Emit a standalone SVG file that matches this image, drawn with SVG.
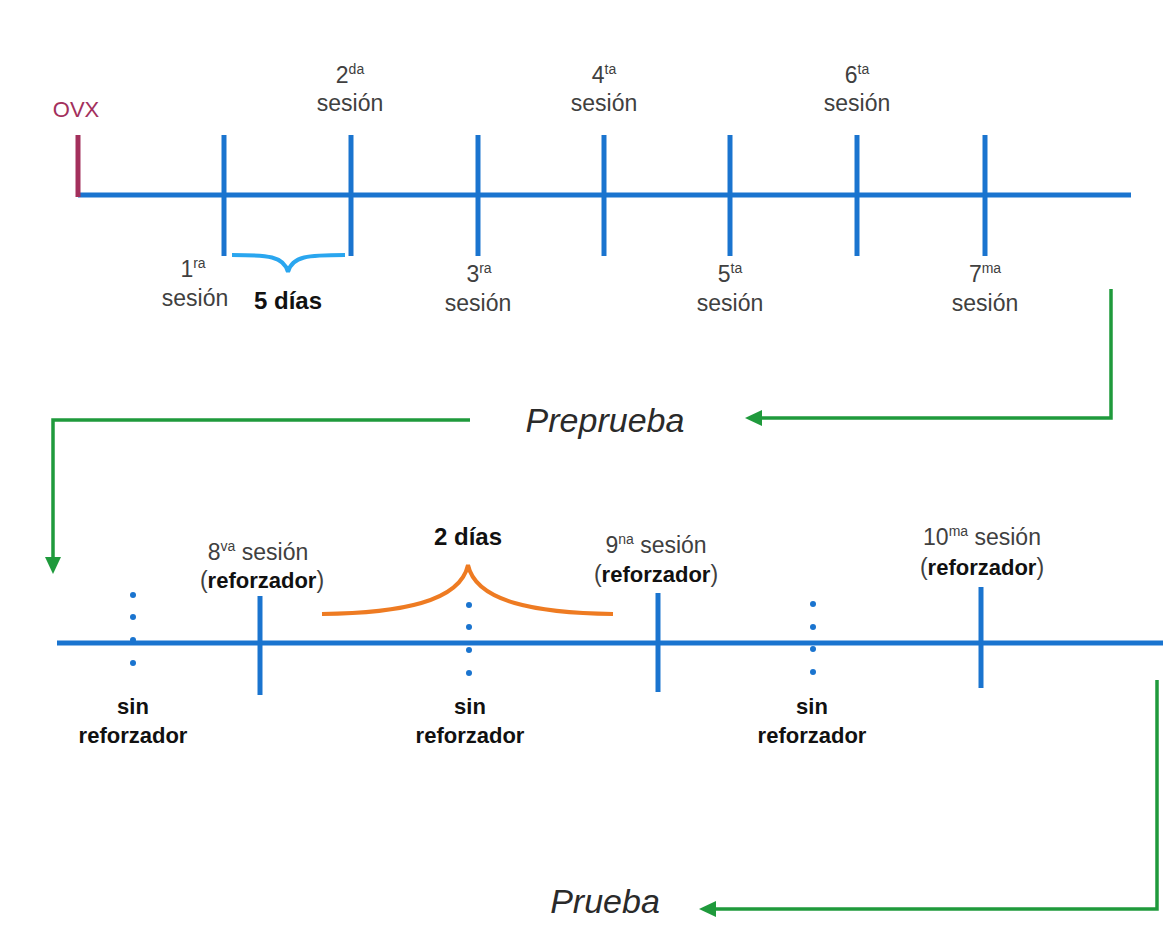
<svg xmlns="http://www.w3.org/2000/svg" width="1163" height="936" viewBox="0 0 1163 936">
<style>
.t{font-family:"Liberation Sans",Arial,sans-serif;font-size:23px;fill:#404040;text-anchor:middle}
.sup{font-size:14px}
.b{font-weight:bold;fill:#111;font-size:22px}
.d{font-size:24px}
.it{font-family:"Liberation Sans",Arial,sans-serif;font-style:italic;font-size:34px;fill:#2a2a2a}
.tl{stroke:#1a74cf;stroke-width:5;fill:none}
.tick{stroke:#1a74cf;stroke-width:5}
.dot{fill:#1a74cf}
.g{stroke:#1f9a3c;stroke-width:3.5;fill:none}
</style>
<defs>
<marker id="arr" markerUnits="userSpaceOnUse" markerWidth="18" markerHeight="16" refX="3" refY="8" orient="auto">
<path d="M0,0 L17,8 L0,16 z" fill="#1f9a3c"/>
</marker>
</defs>
<rect width="1163" height="936" fill="#fff"/>

<g id="timeline1">
<line class="tl" x1="78" y1="195" x2="1131" y2="195"/>
<line x1="78" y1="135" x2="78" y2="197" stroke="#a3305c" stroke-width="5"/>
<line class="tick" x1="224" y1="135" x2="224" y2="256"/>
<line class="tick" x1="351" y1="135" x2="351" y2="256"/>
<line class="tick" x1="478" y1="135" x2="478" y2="256"/>
<line class="tick" x1="604" y1="135" x2="604" y2="256"/>
<line class="tick" x1="730" y1="135" x2="730" y2="256"/>
<line class="tick" x1="857" y1="135" x2="857" y2="256"/>
<line class="tick" x1="985" y1="135" x2="985" y2="256"/>
</g>

<g id="ovx"><text x="76" y="117" class="t" style="fill:#a3305c;font-size:22px">OVX</text></g>
<g id="s1"><text x="193" y="277" class="t">1<tspan class="sup" dy="-9">ra</tspan></text><text x="195" y="306" class="t">sesión</text></g>
<g id="s2"><text x="350" y="83" class="t">2<tspan class="sup" dy="-9">da</tspan></text><text x="350" y="111" class="t">sesión</text></g>
<g id="s3"><text x="479" y="282" class="t">3<tspan class="sup" dy="-9">ra</tspan></text><text x="478" y="311" class="t">sesión</text></g>
<g id="s4"><text x="604" y="83" class="t">4<tspan class="sup" dy="-9">ta</tspan></text><text x="604" y="111" class="t">sesión</text></g>
<g id="s5"><text x="730" y="282" class="t">5<tspan class="sup" dy="-9">ta</tspan></text><text x="730" y="311" class="t">sesión</text></g>
<g id="s6"><text x="857" y="83" class="t">6<tspan class="sup" dy="-9">ta</tspan></text><text x="857" y="111" class="t">sesión</text></g>
<g id="s7"><text x="985" y="282" class="t">7<tspan class="sup" dy="-9">ma</tspan></text><text x="985" y="311" class="t">sesión</text></g>

<g id="brace5">
<path d="M232,255 C268,255 284,256 288,272 C292,256 308,255 345,255" stroke="#2aa6ef" stroke-width="4" fill="none"/>
<text x="288" y="309" class="t b d">5 días</text>
</g>

<g id="preprueba"><text x="605" y="432" class="it" text-anchor="middle">Preprueba</text></g>

<g id="timeline2">
<line class="tl" x1="57" y1="643" x2="1163" y2="643"/>
<line class="tick" x1="260" y1="596" x2="260" y2="695"/>
<line class="tick" x1="658" y1="593" x2="658" y2="692"/>
<line class="tick" x1="981" y1="587" x2="981" y2="688"/>
<circle class="dot" cx="133" cy="595" r="3"/><circle class="dot" cx="133" cy="617" r="3"/><circle class="dot" cx="133" cy="640" r="3"/><circle class="dot" cx="133" cy="663" r="3"/>
<circle class="dot" cx="469" cy="605" r="3"/><circle class="dot" cx="469" cy="627" r="3"/><circle class="dot" cx="469" cy="650" r="3"/><circle class="dot" cx="469" cy="673" r="3"/>
<circle class="dot" cx="813" cy="604" r="3"/><circle class="dot" cx="813" cy="627" r="3"/><circle class="dot" cx="813" cy="649" r="3"/><circle class="dot" cx="813" cy="672" r="3"/>
</g>

<g id="s8"><text x="258" y="560" class="t">8<tspan class="sup" dy="-9">va</tspan><tspan dy="9"> sesión</tspan></text><text x="262" y="588" class="t">(<tspan class="b">reforzador</tspan>)</text></g>
<g id="s9"><text x="656" y="553" class="t">9<tspan class="sup" dy="-9">na</tspan><tspan dy="9"> sesión</tspan></text><text x="656" y="582" class="t">(<tspan class="b">reforzador</tspan>)</text></g>
<g id="s10"><text x="982" y="545" class="t">10<tspan class="sup" dy="-9">ma</tspan><tspan dy="9"> sesión</tspan></text><text x="982" y="575" class="t">(<tspan class="b">reforzador</tspan>)</text></g>

<g id="brace2">
<path d="M322,614 C400,613 460,602 468,565 C476,602 536,613 613,614" stroke="#ee7b22" stroke-width="4" fill="none"/>
<text x="468" y="545" class="t b d">2 días</text>
</g>

<g id="sin1"><text x="133" y="714" class="t b">sin</text><text x="133" y="743" class="t b">reforzador</text></g>
<g id="sin2"><text x="470" y="714" class="t b">sin</text><text x="470" y="743" class="t b">reforzador</text></g>
<g id="sin3"><text x="812" y="714" class="t b">sin</text><text x="812" y="743" class="t b">reforzador</text></g>

<g id="prueba"><text x="605" y="913" class="it" text-anchor="middle">Prueba</text></g>

<g id="connectors">
<polyline class="g" points="1111,289 1111,418 759,418" marker-end="url(#arr)"/>
<polyline class="g" points="470,420 53,420 53,560" marker-end="url(#arr)"/>
<polyline class="g" points="1157,680 1157,909 713,909" marker-end="url(#arr)"/>
</g>
</svg>
